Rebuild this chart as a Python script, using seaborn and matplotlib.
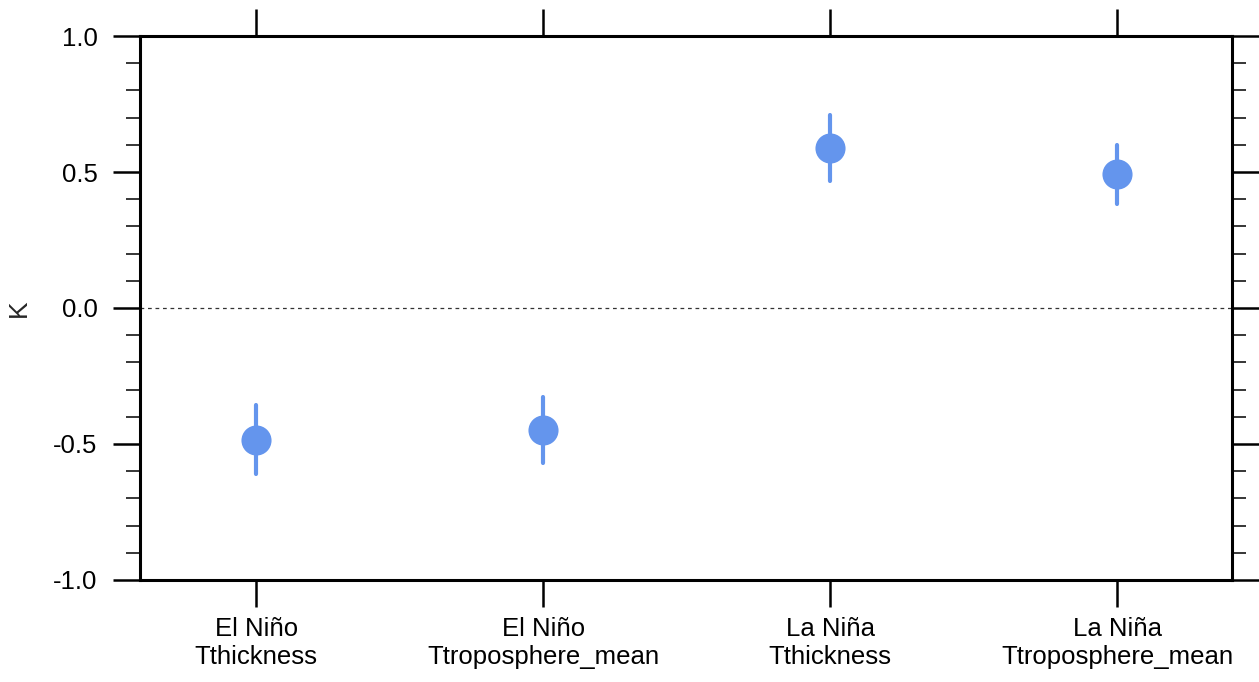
import numpy as np
import pandas as pd
import matplotlib
matplotlib.use('Agg')
import matplotlib.pyplot as plt
import seaborn as sns

categories = ['El Niño\nTthickness', 'El Niño\nTtroposphere_mean',
              'La Niña\nTthickness', 'La Niña\nTtroposphere_mean']
values = [-0.485, -0.449, 0.588, 0.493]
lower = [-0.610, -0.570, 0.467, 0.382]
upper = [-0.357, -0.327, 0.710, 0.601]


def main():
    sns.set_style('ticks')
    plt.rcParams['font.family'] = ['Liberation Sans', 'DejaVu Sans']

    df = pd.DataFrame({'case': categories, 'value': values,
                       'lo': lower, 'hi': upper})

    fig = plt.figure(figsize=(12.59, 6.82), dpi=100)
    ax = fig.add_axes([0.1112, 0.1496, 0.8674, 0.7976])

    color = '#6495ED'
    # error bars
    ax.vlines(np.arange(len(df)), df['lo'], df['hi'], color=color,
              linewidth=3, capstyle='round', zorder=2)
    sns.scatterplot(x='case', y='value', data=df, ax=ax, color=color,
                    s=470, linewidth=0, zorder=3, legend=False)

    ax.axhline(0, color='#333333', linestyle=(0, (3, 3)), linewidth=0.9,
               zorder=1)

    ax.set_xlim(-0.405, 3.4)
    ax.set_ylim(-1, 1)
    ax.set_yticks([-1, -0.5, 0, 0.5, 1])
    ax.set_yticklabels(['-1.0', '-0.5', '0.0', '0.5', '1.0'])
    ax.set_yticks(np.arange(-1, 1.01, 0.1), minor=True)
    ax.set_xticks(range(len(categories)))
    ax.set_xticklabels(categories)

    for s in ax.spines.values():
        s.set_visible(True)
        s.set_linewidth(2.2)
        s.set_color('black')

    ax.tick_params(axis='both', which='major', direction='out', length=19.5,
                   width=1.8, labelsize=18.5, colors='black')
    ax.tick_params(axis='y', which='major', pad=11, left=True, right=True)
    ax.tick_params(axis='x', which='major', pad=7, top=True, bottom=True)
    ax.tick_params(axis='y', which='minor', direction='out', length=10,
                   width=1.3, left=True, right=True)
    ax.tick_params(axis='x', which='minor', bottom=False, top=False)

    ax.set_xlabel('')
    ax.set_ylabel('K', fontsize=19, labelpad=16)

    fig.savefig('out.png', dpi=100)


if __name__ == '__main__':
    main()
